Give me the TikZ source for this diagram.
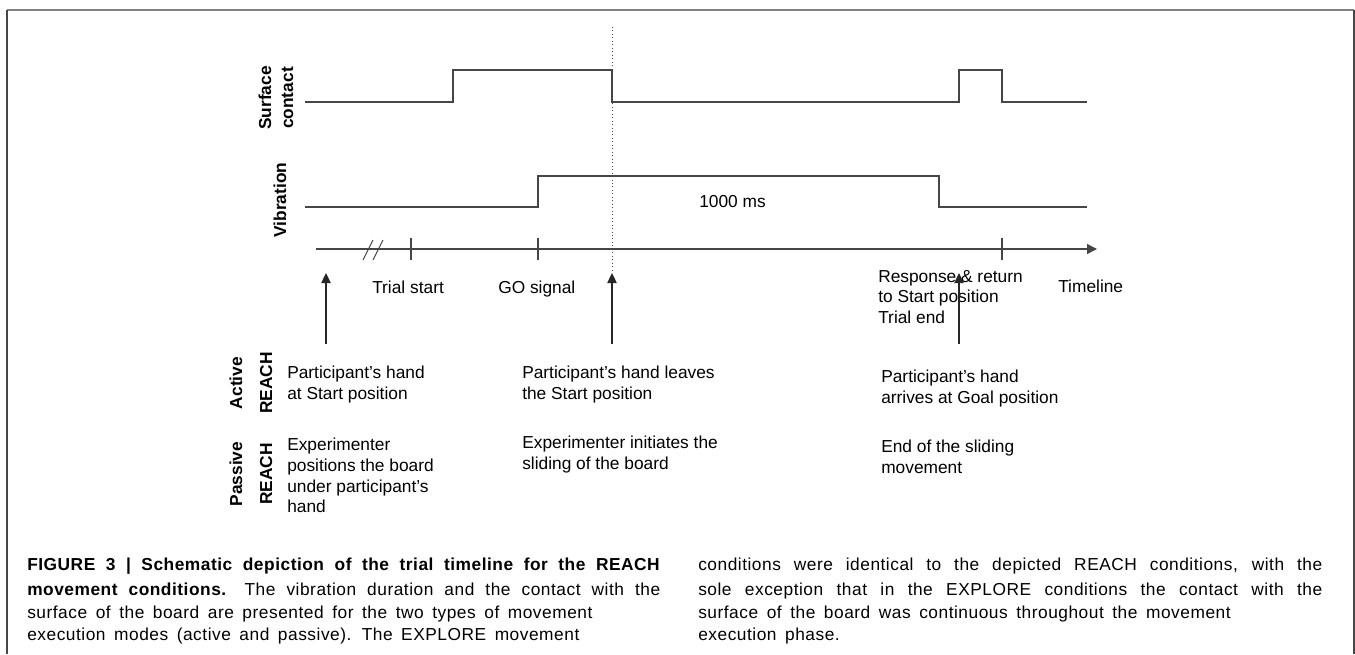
\documentclass[tikz,border=0pt]{standalone}
\usepackage{fontspec}
\setmainfont{Liberation Sans}
\newfontfamily\capfont[LetterSpace=3,WordSpace=1.6]{Liberation Sans}
\usetikzlibrary{arrows.meta,positioning}
\definecolor{ink}{RGB}{70,70,70}
\definecolor{rim}{RGB}{130,130,130}
\newcommand{\comma}{,}

\begin{document}
\begin{tikzpicture}[x=0.75pt,y=-0.75pt,
    signal/.style={draw=ink,line width=1.3pt},
    event/.style={draw=black!85,line width=0.9pt,-{Triangle[length=7.5pt,width=7pt]}},
    txt/.style={font=\fontsize{13}{15.5}\selectfont,align=left,inner sep=0pt,anchor=north west},
    rowlbl/.style={font=\bfseries\fontsize{13}{16.5}\selectfont,rotate=90,align=center,inner sep=0pt},
    capline/.style={font=\capfont\fontsize{13}{15}\selectfont,inner sep=0pt,anchor=base west}]
    \useasboundingbox (0,0) rectangle (1355,654);
    % frame
    \draw[rim,line width=1.2pt] (7,10) -- (1354,10);
    \draw[ink,line width=1.2pt] (7,10) -- (7,654) (1354,10) -- (1354,654);

    % contact and vibration traces
    \draw[signal] (305,102) -- (453,102) -- (453,70) -- (612,70) -- (612,102) -- (959,102) -- (959,70) -- (1002,70) -- (1002,102) -- (1087,102);
    \draw[signal] (305,207) -- (538,207) -- (538,176) -- (939,176) -- (939,207) -- (1087,207);
    \node[txt] (dur) at (699,195) {1000 ms};

    % row labels
    \node[rowlbl] (surf) at (276,98) {Surface\\contact};
    \node[rowlbl] (vib) at (280,200) {Vibration};
    \node[rowlbl] (act) at (251,383) {Active\\[6pt]REACH};
    \node[rowlbl] (pas) at (251,474) {Passive\\[6pt]REACH};

    % timeline
    \coordinate (t0) at (316,249);
    \coordinate (t1) at (1097,249);
    \draw[signal,line width=1pt,-{Triangle[length=7.5pt,width=7.5pt]}] (t0) -- (t1);
    \foreach \x in {411,538,1002}
      \draw[ink,line width=0.8pt] (\x,238) -- (\x,260);
    \foreach \x in {363,373}
      \draw[ink,line width=0.8pt] (\x,260) -- ++(10,-20);
    \draw[ink,dotted,line width=0.6pt] (612,27) -- (612,272);

    \node[txt] (trial) at (372,281) {Trial start};
    \node[txt] (go) at (498,281) {GO signal};
    \node[txt] (resp) at (878,270) {Response \& return\\to Start position\\Trial end};
    \node[txt] (tl) at (1058,280) {Timeline};

    % events
    \foreach \x/\n in {326/a,612/b,959/c} {
      \coordinate (\n0) at (\x,344);
      \coordinate (\n1) at (\x,273);
      \draw[event] (\n0) -- (\n1);
    }

    % active / passive descriptions
    \node[txt] (act1) at (287,366) {Participant’s hand\\at Start position};
    \node[txt] (act2) at (522,366) {Participant’s hand leaves\\the Start position};
    \node[txt] (act3) at (881,370) {Participant’s hand\\arrives at Goal position};
    \node[txt] (pas1) at (287,438) {Experimenter\\positions the board\\under participant’s\\hand};
    \node[txt] (pas2) at (522,436) {Experimenter initiates the\\sliding of the board};
    \node[txt] (pas3) at (881,440) {End of the sliding\\movement};

    % caption
    \foreach \x/\y/\w/\j/\t in {
      27/570/474.75pt/s/{\textbf{FIGURE 3 | Schematic depiction of the trial timeline for the REACH}},
      27/595/474.75pt/s/{\textbf{movement conditions.} The vibration duration and the contact with the},
      27/618/474.75pt/l/{surface of the board are presented for the two types of movement},
      27/640/474.75pt/l/{execution modes (active and passive). The EXPLORE movement},
      698/570/468pt/s/{conditions were identical to the depicted REACH conditions\comma{} with the},
      698/595/468pt/s/{sole exception that in the EXPLORE conditions the contact with the},
      698/618/468pt/l/{surface of the board was continuous throughout the movement},
      698/640/468pt/l/{execution phase.}}
      \node[capline] (cap\x\y) at (\x,\y) {\makebox[\w][\j]{\t}};
  \end{tikzpicture}
\end{document}
